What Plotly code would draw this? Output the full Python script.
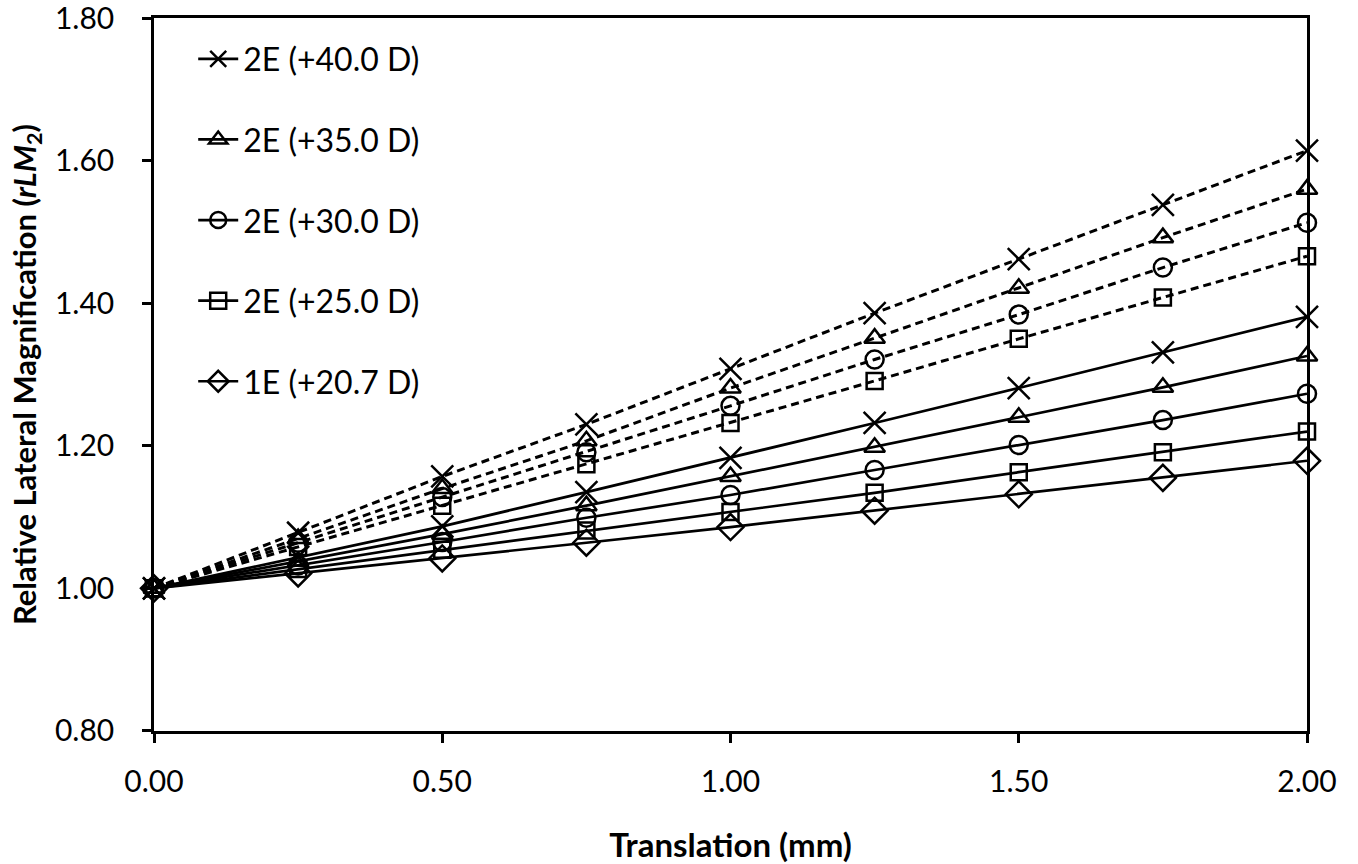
import plotly.graph_objects as go

translation = [0.0, 0.25, 0.5, 0.75, 1.0, 1.25, 1.5, 1.75, 2.0]

labels = ["2E (+40.0 D)", "2E (+35.0 D)", "2E (+30.0 D)", "2E (+25.0 D)", "1E (+20.7 D)"]

# solid-line series (in legend)
solid_40 = [1.0, 1.044, 1.087, 1.135, 1.183, 1.232, 1.281, 1.331, 1.381]
solid_35 = [1.0, 1.038, 1.076, 1.116, 1.157, 1.198, 1.240, 1.282, 1.326]
solid_30 = [1.0, 1.032, 1.065, 1.099, 1.131, 1.166, 1.201, 1.236, 1.273]
solid_25 = [1.0, 1.027, 1.054, 1.081, 1.107, 1.134, 1.163, 1.191, 1.220]
solid_207 = [1.0, 1.021, 1.042, 1.064, 1.086, 1.109, 1.132, 1.155, 1.179]

# dashed-line series (not in legend)
dashed_40 = [1.0, 1.078, 1.157, 1.230, 1.308, 1.386, 1.462, 1.538, 1.614]
dashed_35 = [1.0, 1.070, 1.140, 1.207, 1.281, 1.351, 1.421, 1.492, 1.560]
dashed_30 = [1.0, 1.064, 1.128, 1.191, 1.256, 1.321, 1.384, 1.450, 1.513]
dashed_25 = [1.0, 1.058, 1.116, 1.174, 1.232, 1.291, 1.350, 1.408, 1.466]

x_ticks = [0.0, 0.5, 1.0, 1.5, 2.0]
x_ticktext = ["0.00", "0.50", "1.00", "1.50", "2.00"]
y_ticks = [0.8, 1.0, 1.2, 1.4, 1.6, 1.8]
y_ticktext = ["0.80", "1.00", "1.20", "1.40", "1.60", "1.80"]

symbols = ["x-thin-open", "triangle-up-open", "circle-open", "square-open", "diamond-open"]
sizes = [22, 18, 18, 16, 20]

solid = [solid_40, solid_35, solid_30, solid_25, solid_207]
dashed = [dashed_40, dashed_35, dashed_30, dashed_25]

fig = go.Figure()

for i, ys in enumerate(dashed):
    fig.add_trace(go.Scatter(
        x=translation, y=ys, mode="lines+markers", showlegend=False,
        line=dict(color="black", width=3, dash="8px,5px"),
        marker=dict(symbol=symbols[i], size=sizes[i], color="black",
                    line=dict(color="black", width=2.5)),
        cliponaxis=False,
    ))

for i, ys in enumerate(solid):
    fig.add_trace(go.Scatter(
        x=translation, y=ys, mode="lines+markers", name=labels[i],
        legendgroup="g%d" % i,
        line=dict(color="black", width=2.7),
        marker=dict(symbol=symbols[i], size=sizes[i], color="black",
                    line=dict(color="black", width=2.5)),
        cliponaxis=False,
    ))

fig.update_layout(
    width=1358, height=864,
    margin=dict(l=154, r=51, t=18, b=133, autoexpand=False),
    paper_bgcolor="white", plot_bgcolor="white",
    font=dict(family="Lato", color="black"),
    showlegend=True,
    legend=dict(x=0.034, y=0.981, xanchor="left", yanchor="top",
                font=dict(size=32, family="Lato"),
                tracegroupgap=36, traceorder="grouped", itemwidth=40,
                bgcolor="rgba(0,0,0,0)"),
    xaxis=dict(range=[0, 2], tickvals=x_ticks, ticktext=x_ticktext,
               showgrid=False, zeroline=False, showline=True, mirror=True,
               linecolor="black", linewidth=2.5, automargin=False,
               ticks="outside", ticklen=9, tickwidth=2.5, tickcolor="black",
               tickfont=dict(size=30, family="Lato"), ticklabelstandoff=13,
               ticklabeloverflow="allow",
               title=dict(text="<b>Translation (mm)</b>", font=dict(size=33, family="Lato"),
                          standoff=39)),
    yaxis=dict(range=[0.7999, 1.8001], tickvals=y_ticks, ticktext=y_ticktext,
               showgrid=False, zeroline=False, showline=True, mirror=True,
               linecolor="black", linewidth=2.5, automargin=False,
               ticks="outside", ticklen=9, tickwidth=2.5, tickcolor="black",
               tickfont=dict(size=30, family="Lato"), ticklabelstandoff=22,
               ticklabeloverflow="allow",
               title=dict(text="<b>Relative Lateral Magnification (<i>rLM</i><sub>2</sub>)</b>",
                          font=dict(size=31, family="Lato"), standoff=10)),
)

fig.write_html("out.html")
